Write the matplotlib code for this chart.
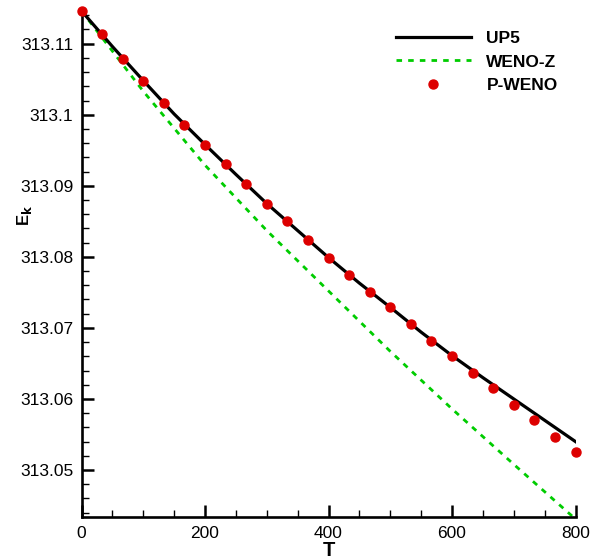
import numpy as np
import matplotlib
matplotlib.use("Agg")
import matplotlib.pyplot as plt
from matplotlib.ticker import MultipleLocator, FuncFormatter

plt.rcParams['font.family'] = ['Liberation Sans', 'DejaVu Sans']

# UP5 reference curve
t_up5 = [0, 50, 100, 150, 200, 250, 300, 350, 400, 450, 500, 550, 600, 650, 700, 750, 800]
e_up5 = [313.1146, 313.1096, 313.1048, 313.1001, 313.0958, 313.0916, 313.0875, 313.0837,
         313.0799, 313.0763, 313.0729, 313.0694, 313.0661, 313.0630, 313.0600, 313.0570, 313.0540]

# WENO-Z
t_wenoz = [0, 100, 200, 300, 400, 500, 600, 700, 800]
e_wenoz = [313.1146, 313.1033, 313.0929, 313.0837, 313.0752, 313.0667, 313.0586, 313.0508, 313.0431]

# P-WENO symbols
t_pweno = [0, 33.3, 66.7, 100, 133.3, 166.7, 200, 233.3, 266.7, 300, 333.3, 366.7, 400,
           433.3, 466.7, 500, 533.3, 566.7, 600, 633.3, 666.7, 700, 733.3, 766.7, 800]
e_pweno = [313.1146, 313.1113, 313.1079, 313.1048, 313.1017, 313.0986, 313.0958, 313.0930,
           313.0902, 313.0875, 313.0850, 313.0824, 313.0799, 313.0775, 313.0751, 313.0729,
           313.0705, 313.0682, 313.0660, 313.0637, 313.0615, 313.0592, 313.0570, 313.0547,
           313.0525]

W, H = 603, 560
fig = plt.figure(figsize=(W / 100, H / 100), dpi=100)
ax = fig.add_axes([0.1352, 0.0763, 0.8192, 0.9041])

ax.plot(t_up5, e_up5, color='black', lw=2.3, label='UP5', zorder=2)
ax.plot(t_wenoz, e_wenoz, color='#00cc00', lw=2.0, ls=(0, (2, 2.2)), label='WENO-Z', zorder=1)
ax.plot(t_pweno, e_pweno, 'o', color='#dd0000', ms=6.5, mec='#dd0000', label='P-WENO',
        zorder=3, clip_on=False)

ax.set_xlim(0, 800)
ax.set_ylim(313.04335, 313.1146)

ax.spines['top'].set_visible(False)
ax.spines['right'].set_visible(False)
ax.spines['left'].set_linewidth(1.9)
ax.spines['bottom'].set_linewidth(1.9)

ax.xaxis.set_major_locator(MultipleLocator(200))
ax.xaxis.set_minor_locator(MultipleLocator(50))
ax.yaxis.set_major_locator(MultipleLocator(0.01))
ax.yaxis.set_minor_locator(MultipleLocator(0.002))
ax.yaxis.set_major_formatter(FuncFormatter(lambda v, p: '{:g}'.format(round(v, 4))))

ax.tick_params(which='major', direction='in', length=8.5, width=1.8, labelsize=12.5, pad=6)
ax.tick_params(which='minor', direction='in', length=5, width=1.0)

# axis titles placed like the original layout
fig.text(329 / W, 1 - 541 / H, 'T', fontsize=14.5, fontweight='bold', ha='center', va='top')
fig.text(24 / W, 1 - 215 / H, r'E$_\mathbf{k}$', fontsize=12, fontweight='bold',
         rotation=90, ha='center', va='center')

leg = ax.legend(loc='upper right', bbox_to_anchor=(0.978, 0.975), frameon=False,
                prop={'weight': 'bold', 'size': 12.5}, handlelength=4.3,
                labelspacing=0.5, handletextpad=0.9, borderaxespad=0)

fig.savefig('out.png', dpi=100)
